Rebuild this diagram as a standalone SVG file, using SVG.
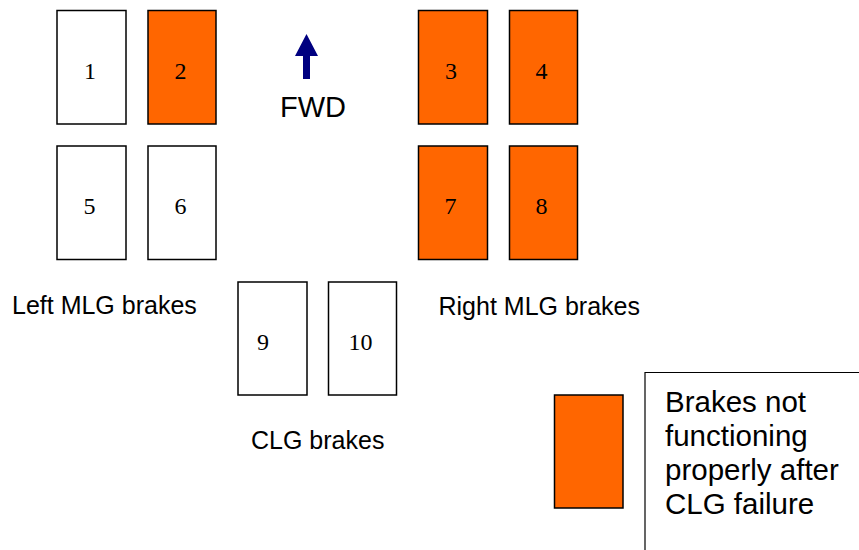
<svg xmlns="http://www.w3.org/2000/svg" width="859" height="550" viewBox="0 0 859 550">
<style>
.b{stroke:#000;stroke-width:1.5;fill:#fff}
.o{fill:#FF6600}
.n{font-family:"Liberation Serif","Times New Roman",serif;font-size:24px;text-anchor:middle;fill:#000}
.l{font-family:"Liberation Sans",Arial,sans-serif;font-size:25px;fill:#000}
</style>
<rect width="859" height="550" fill="#fff"/>
<g id="brake1"><rect class="b" x="57" y="10.5" width="69" height="113.5"/><text class="n" x="90" y="79">1</text></g>
<g id="brake2"><rect class="b o" x="148" y="10.5" width="68" height="113.5"/><text class="n" x="180.5" y="79">2</text></g>
<g id="brake3"><rect class="b o" x="418.5" y="10.5" width="69" height="113.5"/><text class="n" x="451" y="79">3</text></g>
<g id="brake4"><rect class="b o" x="509.5" y="10.5" width="68" height="113.5"/><text class="n" x="541.5" y="79">4</text></g>
<g id="brake5"><rect class="b" x="57" y="146" width="69" height="113.5"/><text class="n" x="89.5" y="214">5</text></g>
<g id="brake6"><rect class="b" x="148" y="146" width="68" height="113.5"/><text class="n" x="180.5" y="214">6</text></g>
<g id="brake7"><rect class="b o" x="418.5" y="146" width="69" height="113.5"/><text class="n" x="450.5" y="214">7</text></g>
<g id="brake8"><rect class="b o" x="509.5" y="146" width="68" height="113.5"/><text class="n" x="541.5" y="214">8</text></g>
<g id="brake9"><rect class="b" x="238" y="282" width="69" height="113"/><text class="n" x="263" y="350">9</text></g>
<g id="brake10"><rect class="b" x="328.5" y="282" width="68" height="113"/><text class="n" x="360.5" y="350">10</text></g>
<g id="fwd">
<polygon points="306.5,34 318,56 310,56 310,79 303,79 303,56 295,56" fill="#000080"/>
<text class="l" x="313" y="116.5" text-anchor="middle" style="font-size:29px">FWD</text>
</g>
<g id="labels">
<text class="l" x="12" y="314">Left MLG brakes</text>
<text class="l" x="438.5" y="315">Right MLG brakes</text>
<text class="l" x="251" y="449">CLG brakes</text>
</g>
<g id="legend">
<rect class="b o" x="554.5" y="395" width="68.5" height="113"/>
<path d="M645 550 V372.5 H859" fill="none" stroke="#000" stroke-width="1.2"/>
<text class="l" style="font-size:29.5px" x="665"><tspan x="665" y="412">Brakes not</tspan><tspan x="665" y="446">functioning</tspan><tspan x="665" y="480">properly after</tspan><tspan x="665" y="514">CLG failure</tspan></text>
</g>
<g id="connectors"/>
</svg>
